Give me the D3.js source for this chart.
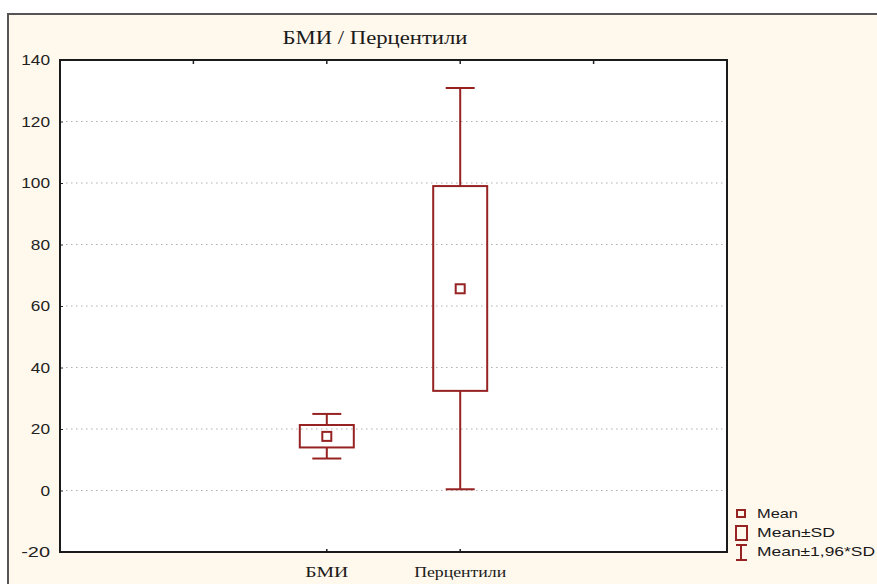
<!DOCTYPE html>
<html>
<head>
<meta charset="utf-8">
<script src="https://cdn.jsdelivr.net/npm/d3@7"></script>
<style>
  html, body { margin: 0; padding: 0; background: #fff; }
  svg { display: block; }
</style>
</head>
<body>
<svg id="chart"></svg>
<script>
// values
const CATEGORIES = ['БМИ', 'Перцентили'];
const MEANS = [17.6, 65.6];
const SD_LOW = [14.0, 32.4];
const SD_HIGH = [21.3, 99.0];
const CI_LOW = [10.4, 0.4];
const CI_HIGH = [24.9, 130.9];
const Y_TICKS = [-20, 0, 20, 40, 60, 80, 100, 120, 140];
const LEGEND_LABELS = ['Mean', 'Mean±SD', 'Mean±1,96*SD'];
const TITLE = 'БМИ / Перцентили';

const width = 877, height = 584;
const plot = {left: 60, top: 60, right: 727, bottom: 552};
const red = '#962222';

const svg = d3.select('#chart').attr('width', width).attr('height', height);

// outer frame
svg.append('rect')
  .attr('x', 8).attr('y', 14)
  .attr('width', width + 10).attr('height', height + 10)
  .attr('fill', '#fff8ec')
  .attr('stroke', '#555').attr('stroke-width', 2);

// x positions: 5 slots, categories sit at 2 and 3
const x = d3.scaleLinear([0, 5], [plot.left, plot.right]);
const y = d3.scaleLinear([-20, 140], [plot.bottom, plot.top]);
const catX = i => x(i + 2);

svg.append('rect')
  .attr('x', plot.left).attr('y', plot.top)
  .attr('width', plot.right - plot.left).attr('height', plot.bottom - plot.top)
  .attr('fill', '#fff');

// grid
svg.append('g')
  .selectAll('line')
  .data(Y_TICKS.filter(d => d > -20 && d < 140)).enter()
  .append('line')
    .attr('x1', plot.left + 6).attr('x2', plot.right - 2)
    .attr('y1', d => y(d)).attr('y2', d => y(d))
    .attr('stroke', '#b0b0b0')
    .attr('stroke-width', 1.2)
    .attr('stroke-dasharray', '1.5,3.5');

// y axis labels + small inner ticks
const yAxis = d3.axisLeft(y)
  .tickValues(Y_TICKS)
  .tickFormat(d => String(d))
  .tickSize(-3)
  .tickPadding(10);
svg.append('g')
  .attr('transform', `translate(${plot.left},0)`)
  .call(yAxis)
  .call(g => g.select('.domain').remove())
  .call(g => g.selectAll('line').attr('stroke', '#222'))
  .call(g => g.selectAll('text')
    .attr('font-family', 'Liberation Sans, Arial, sans-serif')
    .attr('font-size', 15)
    .attr('fill', '#222')
    .attr('textLength', d => String(d).length * 9.6)
    .attr('lengthAdjust', 'spacingAndGlyphs'));

// top ticks
svg.append('g')
  .selectAll('line')
  .data([1, 2, 3, 4]).enter()
  .append('line')
    .attr('x1', d => x(d)).attr('x2', d => x(d))
    .attr('y1', plot.top).attr('y2', plot.top + 4)
    .attr('stroke', '#222').attr('stroke-width', 1.5);

// bottom ticks
svg.append('g')
  .selectAll('line')
  .data(CATEGORIES).enter()
  .append('line')
    .attr('x1', (d, i) => catX(i)).attr('x2', (d, i) => catX(i))
    .attr('y1', plot.bottom).attr('y2', plot.bottom - 3)
    .attr('stroke', '#222').attr('stroke-width', 1.5);

// plot border
svg.append('rect')
  .attr('x', plot.left).attr('y', plot.top)
  .attr('width', plot.right - plot.left).attr('height', plot.bottom - plot.top)
  .attr('fill', 'none')
  .attr('stroke', '#1a1a1a').attr('stroke-width', 2);

// x labels
svg.append('g')
  .selectAll('text')
  .data(CATEGORIES).enter()
  .append('text')
    .attr('x', (d, i) => catX(i))
    .attr('y', 577)
    .attr('text-anchor', 'middle')
    .attr('font-family', 'Liberation Serif, Times New Roman, serif')
    .attr('font-size', 15)
    .attr('fill', '#1a1a1a')
    .attr('textLength', (d, i) => i === 0 ? 43 : 92)
    .attr('lengthAdjust', 'spacingAndGlyphs')
    .text(d => d);

// title
svg.append('text')
  .attr('x', 375).attr('y', 44)
  .attr('text-anchor', 'middle')
  .attr('font-family', 'Liberation Serif, Times New Roman, serif')
  .attr('font-size', 18)
  .attr('fill', '#1a1a1a')
  .attr('textLength', 185)
  .attr('lengthAdjust', 'spacingAndGlyphs')
  .text(TITLE);

// boxes
const boxW = 54, capW = 29, meanS = 9;
const boxes = svg.append('g')
  .selectAll('g')
  .data(CATEGORIES).enter()
  .append('g')
  .attr('fill', 'none')
  .attr('stroke', red)
  .attr('stroke-width', 2);

boxes.append('line')
  .attr('x1', (d, i) => catX(i)).attr('x2', (d, i) => catX(i))
  .attr('y1', (d, i) => y(CI_HIGH[i])).attr('y2', (d, i) => y(SD_HIGH[i]));
boxes.append('line')
  .attr('x1', (d, i) => catX(i)).attr('x2', (d, i) => catX(i))
  .attr('y1', (d, i) => y(SD_LOW[i])).attr('y2', (d, i) => y(CI_LOW[i]));
boxes.append('line')
  .attr('x1', (d, i) => catX(i) - capW / 2).attr('x2', (d, i) => catX(i) + capW / 2)
  .attr('y1', (d, i) => y(CI_HIGH[i])).attr('y2', (d, i) => y(CI_HIGH[i]));
boxes.append('line')
  .attr('x1', (d, i) => catX(i) - capW / 2).attr('x2', (d, i) => catX(i) + capW / 2)
  .attr('y1', (d, i) => y(CI_LOW[i])).attr('y2', (d, i) => y(CI_LOW[i]));
boxes.append('rect')
  .attr('x', (d, i) => catX(i) - boxW / 2)
  .attr('y', (d, i) => y(SD_HIGH[i]))
  .attr('width', boxW)
  .attr('height', (d, i) => y(SD_LOW[i]) - y(SD_HIGH[i]));
boxes.append('rect')
  .attr('x', (d, i) => catX(i) - meanS / 2)
  .attr('y', (d, i) => y(MEANS[i]) - meanS / 2)
  .attr('width', meanS).attr('height', meanS);

// legend
const lx = 741;
const legend = svg.append('g').attr('fill', 'none').attr('stroke', red).attr('stroke-width', 2);
legend.append('rect').attr('x', lx - 4).attr('y', 510).attr('width', 8).attr('height', 7);
legend.append('rect').attr('x', lx - 5).attr('y', 526).attr('width', 11).attr('height', 14);
legend.append('line').attr('x1', lx).attr('x2', lx).attr('y1', 545).attr('y2', 560);
legend.append('line').attr('x1', lx - 5).attr('x2', lx + 6).attr('y1', 545).attr('y2', 545);
legend.append('line').attr('x1', lx - 5).attr('x2', lx + 6).attr('y1', 560).attr('y2', 560);

svg.append('g')
  .selectAll('text')
  .data(LEGEND_LABELS).enter()
  .append('text')
    .attr('x', 757)
    .attr('y', (d, i) => [518, 537, 556][i])
    .attr('font-family', 'Liberation Sans, Arial, sans-serif')
    .attr('font-size', 13)
    .attr('fill', '#1a1a1a')
    .attr('textLength', (d, i) => [41, 78, 118][i])
    .attr('lengthAdjust', 'spacingAndGlyphs')
    .text(d => d);
</script>
</body>
</html>
